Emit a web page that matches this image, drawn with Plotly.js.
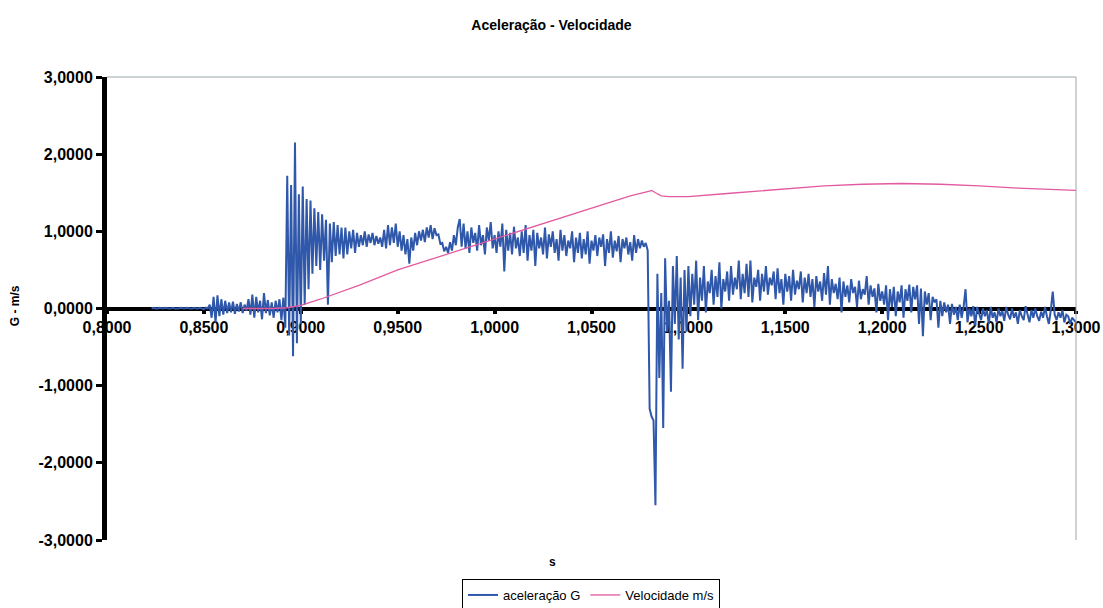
<!DOCTYPE html>
<html>
<head>
<meta charset="utf-8">
<script src="https://cdn.plot.ly/plotly-3.0.1.min.js"></script>
<style>html,body{margin:0;padding:0;background:#fff;}#chart{width:1103px;height:608px;}</style>
</head>
<body>
<div id="chart"></div>
<script>
// ---- Data ----
const chartTitle = "Aceleração - Velocidade";
const seriesNames = ["aceleração G", "Velocidade m/s"];
const xTickVals = [0.80, 0.85, 0.90, 0.95, 1.00, 1.05, 1.10, 1.15, 1.20, 1.25, 1.30];
const yTickVals = [-3, -2, -1, 0, 1, 2, 3];
const sampleStep = 0.001; // acceleration sampling interval (s)

// acceleration (G), sampled every 0.001 s; each segment starts at the given time
const accStarts = [0.823, 0.853, 0.893, 0.923, 0.953, 0.983, 1.013, 1.043, 1.080, 1.101, 1.151, 1.201, 1.251];
const acc0823 = [0.00,0.01,0.00,0.00,0.01,0.00,0.00,0.01,0.00,0.00,
                 0.00,0.01,0.00,0.00,0.00,0.01,0.00,0.00,0.01,0.00,
                 0.00,0.00,0.01,0.00,0.00,0.01,0.00,-0.01,0.01,0.00];
const acc0853 = [0.05,-0.12,0.15,-0.18,0.17,-0.10,0.12,-0.08,0.10,-0.06,
                 0.08,-0.05,0.09,-0.07,0.06,-0.04,0.08,-0.06,0.05,-0.03,
                 0.12,-0.08,0.18,-0.12,0.15,-0.05,0.10,-0.14,0.20,-0.06,
                 0.11,-0.09,0.08,-0.12,0.10,-0.05,0.12,-0.15,0.14,-0.25];
const acc0893 = [1.72,-0.35,1.60,-0.62,2.15,-0.45,1.48,-0.20,1.58,0.05,
                 1.42,0.25,1.40,0.45,1.30,0.55,1.25,0.50,1.22,0.62,
                 1.15,0.05,1.10,0.60,1.12,0.68,1.08,0.70,1.05,0.65];
const acc0923 = [1.05,0.70,1.00,0.78,1.02,0.72,0.98,0.80,0.95,0.82,
                 1.00,0.80,0.96,0.85,0.98,0.82,0.94,0.84,0.92,0.80,
                 1.02,0.78,1.08,0.82,1.05,0.85,1.10,0.80,1.00,0.75];
const acc0953 = [0.95,0.70,0.90,0.58,0.92,0.75,0.98,0.82,1.00,0.88,
                 1.02,0.86,1.05,0.92,1.08,0.90,1.04,0.95,0.96,0.84,
                 0.85,0.74,0.80,0.72,0.86,0.75,0.95,0.82,1.05,1.16];
const acc0983 = [0.80,1.10,0.78,1.00,0.72,1.05,0.85,0.98,0.75,1.08,
                 0.82,0.95,0.70,1.05,0.88,1.12,0.78,0.95,0.72,1.00,
                 0.80,1.10,0.48,1.02,0.75,0.98,0.70,1.06,0.78,0.92];
const acc1013 = [0.68,1.00,0.72,1.08,0.62,0.95,0.75,1.02,0.55,0.98,
                 0.78,0.92,0.70,1.05,0.65,0.96,0.80,1.00,0.72,0.90,
                 0.62,1.02,0.75,0.95,0.68,0.88,0.78,1.00,0.60,0.92];
const acc1043 = [0.72,0.98,0.65,0.90,0.70,1.00,0.58,0.88,0.75,0.95,
                 0.68,0.92,0.80,0.96,0.55,0.90,0.72,1.00,0.66,0.88,
                 0.74,0.94,0.60,0.90,0.78,0.92,0.70,0.86,0.62,0.95,
                 0.72,0.90,0.78,0.88,0.80,0.85,0.75];
const acc1080 = [-1.30,-1.40,-1.45,-2.55,0.45,-0.90,0.20,-1.55,0.65,-0.30,
                 0.10,-1.08,0.55,-0.20,0.68,-0.40,0.40,-0.78,0.50,-0.30,
                 0.55];
const acc1101 = [-0.10,0.45,0.05,0.62,-0.15,0.40,0.10,0.55,-0.05,0.35,
                 0.20,0.50,0.05,0.42,0.15,0.60,0.00,0.38,0.22,0.48,
                 0.10,0.55,0.18,0.40,0.25,0.62,0.12,0.45,0.20,0.58,
                 0.15,0.62,0.08,0.40,0.28,0.50,0.10,0.45,0.22,0.55,
                 0.18,0.40,0.30,0.48,0.12,0.52,0.20,0.38,0.05,0.45];
const acc1151 = [0.22,0.42,0.10,0.50,0.18,0.36,0.25,0.48,0.08,0.40,
                 0.20,0.45,0.15,0.38,0.02,0.42,0.22,0.35,0.10,0.46,
                 0.18,0.55,0.05,0.38,0.20,0.32,0.12,0.40,-0.05,0.35,
                 0.15,0.30,0.08,0.38,0.20,0.28,0.02,0.36,0.12,0.25,
                 0.18,0.42,0.05,0.30,0.15,0.26,-0.05,0.32,0.10,0.22];
const acc1201 = [0.05,0.30,-0.15,0.25,0.02,0.28,-0.10,0.22,0.08,0.30,
                 -0.12,0.25,0.10,0.31,-0.05,0.28,0.12,0.30,-0.20,0.26,
                 -0.36,0.22,0.05,0.20,-0.15,0.15,0.08,0.12,-0.25,0.10,
                 -0.10,0.08,-0.05,0.05,-0.20,0.06,-0.08,0.02,-0.15,0.05,
                 -0.12,0.02,0.25,-0.18,0.00,-0.10,0.03,-0.22,0.02,-0.08];
const acc1251 = [-0.15,0.00,-0.10,-0.02,-0.20,0.02,-0.12,-0.05,-0.18,0.00,
                 -0.10,-0.03,-0.16,0.02,-0.08,-0.14,0.00,-0.12,-0.05,-0.20,
                 -0.02,-0.10,-0.15,0.03,-0.08,-0.18,-0.02,-0.12,0.00,-0.10,
                 -0.16,-0.04,-0.12,0.02,-0.10,-0.20,-0.02,0.22,-0.08,-0.15,
                 -0.05,-0.12,-0.02,-0.18,-0.08,-0.10,-0.20,-0.12,-0.15,-0.18];

// velocity (m/s)
const velTime = [0.870,0.885,0.893,0.900,0.910,0.920,0.930,0.950,0.975,1.000,1.025,1.050,1.070,1.080,1.081,1.083,1.086,1.090,1.100,1.120,1.150,1.170,1.190,1.210,1.230,1.250,1.270,1.300];
const velValues = [0.00,0.00,0.01,0.04,0.12,0.21,0.30,0.50,0.70,0.90,1.10,1.31,1.46,1.52,1.53,1.50,1.46,1.45,1.45,1.49,1.55,1.59,1.61,1.62,1.61,1.59,1.56,1.53];

// ---- Build acceleration series ----
const accSegs = [acc0823, acc0853, acc0893, acc0923, acc0953, acc0983, acc1013, acc1043, acc1080, acc1101, acc1151, acc1201, acc1251];
const accTime = [], accValues = [];
accSegs.forEach((seg, s) => {
  seg.forEach((v, i) => {
    accTime.push(+(accStarts[s] + i * sampleStep).toFixed(4));
    accValues.push(v);
  });
});

const FONT = "Liberation Sans, Arial, Helvetica, sans-serif";
const fmt = v => v.toFixed(4).replace('.', ',');

const traces = [
  {x: accTime, y: accValues, type: 'scatter', mode: 'lines', name: seriesNames[0],
   line: {color: '#2F57AA', width: 2}},
  {x: velTime, y: velValues, type: 'scatter', mode: 'lines', name: seriesNames[1],
   line: {color: '#E25AA0', width: 1.3}}
];

const layout = {
  width: 1103, height: 608,
  paper_bgcolor: '#ffffff', plot_bgcolor: '#ffffff',
  margin: {l: 107, r: 27, t: 77, b: 68, autoexpand: false},
  font: {family: FONT, color: '#000'},
  separators: ',.',
  title: {text: chartTitle, font: {family: FONT, size: 14, weight: 700, color: '#000'},
          x: 0.5, xref: 'container', y: 1 - 25/608, yref: 'container', yanchor: 'middle'},
  showlegend: true,
  legend: {orientation: 'h', x: 591/1103, xref: 'container', xanchor: 'center',
           y: 1 - 595/608, yref: 'container', yanchor: 'middle',
           bordercolor: '#000', borderwidth: 1, bgcolor: '#fff',
           font: {family: FONT, size: 13, color: '#000'}, itemwidth: 30, tracegroupgap: 0},
  xaxis: {range: [0.8, 1.3], anchor: 'free', position: 0.5,
          tickmode: 'array', tickvals: xTickVals, ticktext: xTickVals.map(fmt),
          showgrid: false, zeroline: false, showline: true, linecolor: '#000', linewidth: 4,
          ticks: 'outside', ticklen: 3, tickwidth: 4, tickcolor: '#000',
          tickfont: {family: FONT, size: 16, weight: 700, color: '#000'},
          layer: 'below traces', fixedrange: true, automargin: false},
  yaxis: {range: [-3, 3], tickmode: 'array', tickvals: yTickVals, ticktext: yTickVals.map(fmt),
          showgrid: false, zeroline: false, showline: true, linecolor: '#000', linewidth: 5,
          ticks: 'outside', ticklen: 6, tickwidth: 3, tickcolor: '#000',
          tickfont: {family: FONT, size: 16, weight: 700, color: '#000'},
          layer: 'below traces', fixedrange: true, automargin: false},
  shapes: [
    {type: 'line', xref: 'paper', yref: 'paper', x0: 0, x1: 1, y0: 1, y1: 1, line: {color: '#9aa6aa', width: 1}},
    {type: 'line', xref: 'paper', yref: 'paper', x0: 1, x1: 1, y0: 0, y1: 1, line: {color: '#9aa6aa', width: 1}}
  ],
  annotations: [
    {text: 'G - m/s', xref: 'paper', yref: 'paper', x: (15 - 107) / 969, y: 0.505,
     xanchor: 'center', yanchor: 'middle', textangle: -90, showarrow: false,
     font: {family: FONT, size: 12, weight: 700, color: '#000'}},
    {text: 's', xref: 'paper', yref: 'paper', x: (552 - 107) / 969, y: -22 / 463,
     xanchor: 'center', yanchor: 'middle', showarrow: false,
     font: {family: FONT, size: 12, weight: 700, color: '#000'}}
  ]
};

Plotly.newPlot('chart', traces, layout, {displayModeBar: false, staticPlot: true});
</script>
</body>
</html>
